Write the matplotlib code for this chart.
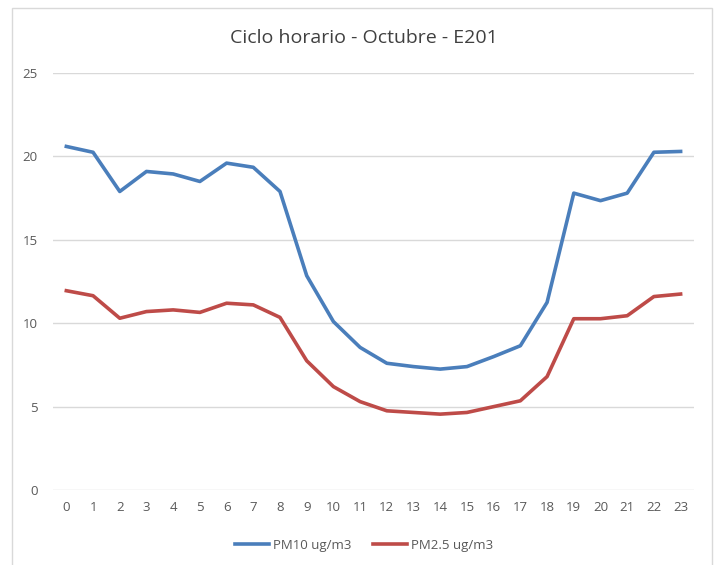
import matplotlib.pyplot as plt
from matplotlib.patches import Rectangle

hours = list(range(24))
pm10 = [20.6, 20.25, 17.9, 19.1, 18.95, 18.5, 19.6, 19.35, 17.9, 12.85, 10.1, 8.55,
        7.6, 7.4, 7.25, 7.4, 8.0, 8.65, 11.25, 17.8, 17.35, 17.8, 20.25, 20.3]
pm25 = [11.95, 11.65, 10.3, 10.7, 10.8, 10.65, 11.2, 11.1, 10.35, 7.75, 6.2, 5.3,
        4.75, 4.65, 4.55, 4.65, 5.0, 5.35, 6.8, 10.27, 10.27, 10.45, 11.6, 11.75]
labels = ["PM10 ug/m3", "PM2.5 ug/m3"]

plt.rcParams['font.family'] = ['Open Sans', 'DejaVu Sans']

fig = plt.figure(figsize=(7.21, 5.65), dpi=100)
ax = fig.add_axes([0.0735, 0.1327, 0.889, 0.738])

# chart border
fig.patches.append(Rectangle((12 / 721, -0.01), 700 / 721, 1 - 8 / 565 + 0.01,
                             transform=fig.transFigure, fill=False,
                             edgecolor="#d9d9d9", linewidth=1.0))

ax.plot(hours, pm10, color="#4a7ebb", linewidth=2.6, label=labels[0])
ax.plot(hours, pm25, color="#be4b48", linewidth=2.6, label=labels[1])

ax.set_xlim(-0.5, 23.5)
ax.set_ylim(0, 25)
ax.set_yticks([0, 5, 10, 15, 20, 25])
ax.set_xticks(hours)
ax.grid(axis="y", color="#d9d9d9", linewidth=1.0)
ax.set_axisbelow(True)
for s in ax.spines.values():
    s.set_visible(False)
ax.tick_params(length=0, labelsize=9.5, colors="#595959", pad=8)
ax.tick_params(axis="y", pad=11)

fig.text(0.505, 0.933, "Ciclo horario - Octubre - E201", ha="center", va="center",
         fontsize=14, color="#404040")
fig.legend(loc="center", bbox_to_anchor=(0.505, 0.035), ncol=2, frameon=False,
           fontsize=9.5, labelcolor="#595959", handlelength=2.6, handletextpad=0.3,
           columnspacing=1.6)

fig.savefig("out.png", dpi=100)
